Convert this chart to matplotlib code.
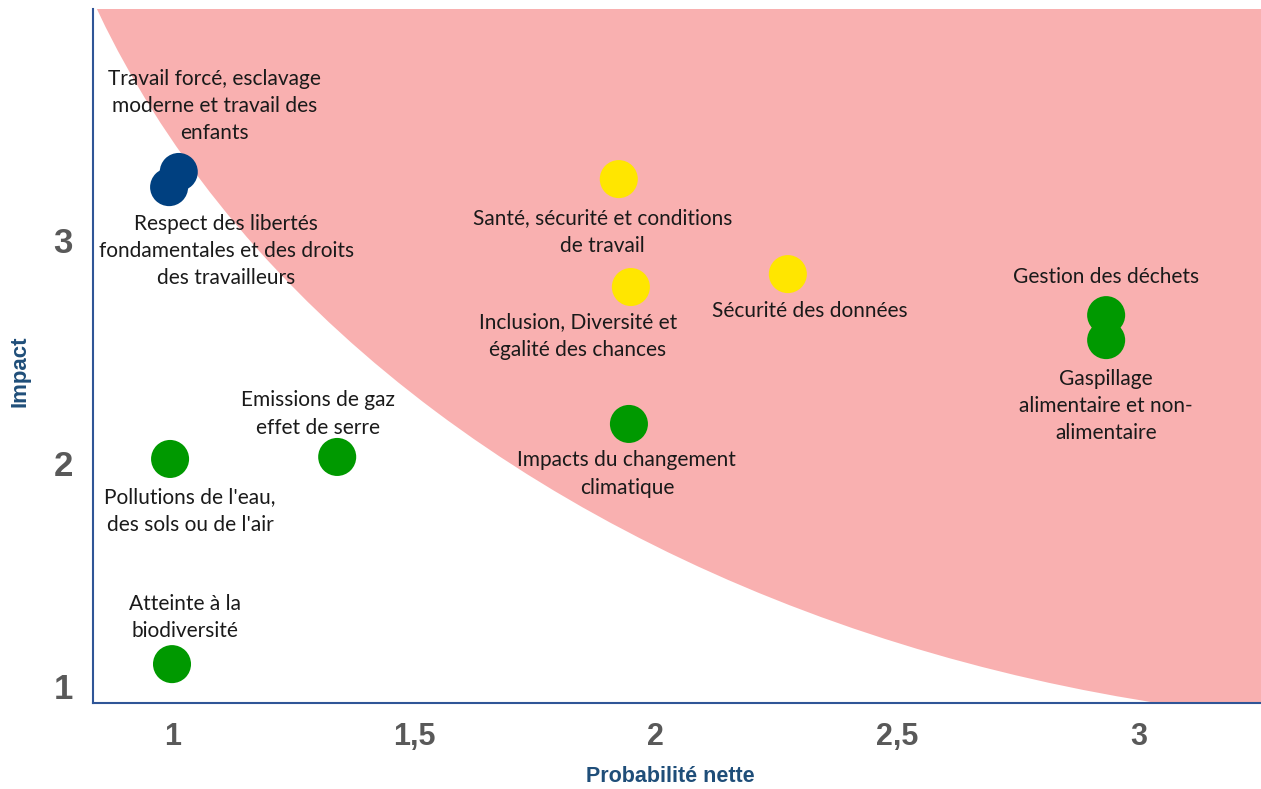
import matplotlib
matplotlib.use("Agg")
import matplotlib.pyplot as plt
from matplotlib.patches import Ellipse

# ---- data ----
labels = [
    "Travail forcé, esclavage\nmoderne et travail des\nenfants",
    "Respect des libertés\nfondamentales et des droits\ndes travailleurs",
    "Santé, sécurité et conditions\nde travail",
    "Inclusion, Diversité et\négalité des chances",
    "Sécurité des données",
    "Gestion des déchets",
    "Gaspillage\nalimentaire et non-\nalimentaire",
    "Impacts du changement\nclimatique",
    "Emissions de gaz\neffet de serre",
    "Pollutions de l'eau,\ndes sols ou de l'air",
    "Atteinte à la\nbiodiversité",
]
probabilite = [1.013, 0.993, 1.924, 1.949, 2.274, 2.933, 2.933, 1.945, 1.341, 0.995, 0.999]
impact = [3.303, 3.235, 3.271, 2.787, 2.845, 2.661, 2.549, 2.173, 2.025, 2.016, 1.096]
groupe = ["social_fond", "social_fond", "social", "social", "social",
          "env", "env", "env", "env", "env", "env"]
x_ticks = [1, 1.5, 2, 2.5, 3]
x_ticklabels = ["1", "1,5", "2", "2,5", "3"]
y_ticks = [1, 2, 3]
y_ticklabels = ["1", "2", "3"]

# ---- layout / style ----
colors = {"social_fond": "#004080", "social": "#FFE600", "env": "#009900"}
# label offsets in pixels (dx, dy) relative to the marker
offsets = [(36, 66), (57, -64), (-16, -53), (-53, -49), (22, -37), (0, 38),
           (0, -66), (-2, -50), (-19, 43), (20, -52), (13, 47)]

fig = plt.figure(figsize=(12.61, 7.89), dpi=100)
ax = fig.add_axes([92.5 / 1261, (789 - 702.7) / 789, (1261 - 92.5) / 1261, (702.7 - 8.5) / 789])
ax.set_xlim(0.8344, 3.2536)
ax.set_ylim(0.923, 4.036)

zone = Ellipse((3.643, 5.631), 5.936, 9.620, facecolor="#F9B0B0", edgecolor="none", zorder=0)
ax.add_patch(zone)

for x, y, g in zip(probabilite, impact, groupe):
    ax.scatter([x], [y], s=750, color=colors[g], edgecolors="none", zorder=3)

for lab, x, y, (dx, dy) in zip(labels, probabilite, impact, offsets):
    ax.annotate(lab, (x, y), xytext=(dx, dy), textcoords="offset pixels",
                ha="center", va="center", multialignment="center",
                fontsize=15, family="Lato", color="#1a1a1a", linespacing=1.45, zorder=4)

for s in ["top", "right"]:
    ax.spines[s].set_visible(False)
for s in ["left", "bottom"]:
    ax.spines[s].set_color("#2F5597")
    ax.spines[s].set_linewidth(1.5)

ax.set_xticks(x_ticks)
ax.set_xticklabels(x_ticklabels, fontsize=22, fontweight="bold", color="#595959",
                   family="Liberation Sans")
ax.set_yticks(y_ticks)
ax.set_yticklabels(y_ticklabels, fontsize=25, fontweight="bold", color="#595959",
                   family="Liberation Sans")
ax.tick_params(axis="x", length=0, pad=14)
ax.tick_params(axis="y", length=0, pad=14)

fig.text(670 / 1261, 1 - 777 / 789, "Probabilité nette", ha="center", va="center",
         fontsize=15.5, fontweight="bold", color="#1F4E79", family="Liberation Sans")
fig.text(20 / 1261, 1 - 371 / 789, "Impact", ha="center", va="center", rotation=90,
         fontsize=16, fontweight="bold", color="#1F4E79", family="Liberation Sans")

fig.savefig("out.png", dpi=100)
